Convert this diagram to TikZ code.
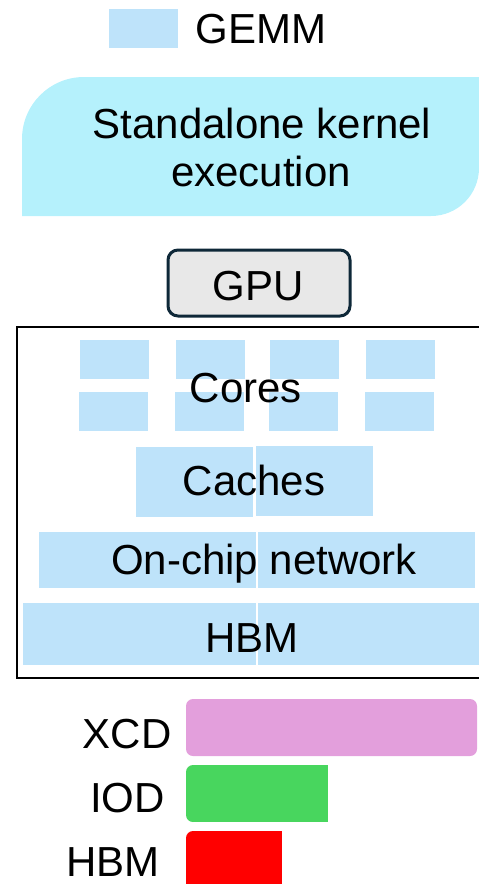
\documentclass[tikz,border=0pt]{standalone}
\usepackage{fontspec}
\setmainfont{Liberation Sans}
\definecolor{gemmblue}{HTML}{BEE3FA}
\definecolor{kernelcyan}{HTML}{B5F1FC}
\definecolor{gpufill}{HTML}{E8E8E8}
\definecolor{gpuline}{HTML}{0E2838}
\definecolor{xcdcol}{HTML}{E39FDC}
\definecolor{iodcol}{HTML}{48D65E}
\definecolor{hbmcol}{HTML}{FF0000}
\begin{document}
\begin{tikzpicture}[x=1pt,y=-1pt,
  txt/.style={inner sep=0pt,anchor=base,font=\fontsize{42}{46}\selectfont},
  blk/.style={fill=gemmblue,draw=none}]
\useasboundingbox (0,0) rectangle (479,884);
\clip (0,0) rectangle (479,884);
% legend
\fill[blk] (109,9) rectangle (178,48);
\node[txt] (gemm) at (261,43) {GEMM};
% standalone kernel execution
\fill[kernelcyan] (22,216) -- (22,139) arc[start angle=180,end angle=270,radius=62]
  -- (479,77) -- (479,168) arc[start angle=0,end angle=90,radius=48] -- cycle;
\node[txt] (sk1) at (262,138) {Standalone kernel};
\node[txt] (sk2) at (261,186) {execution};
% GPU
\node[draw=gpuline,fill=gpufill,line width=3pt,rounded corners=10pt,
  minimum width=182pt,minimum height=66pt,inner sep=0pt] (gpu) at (259,283) {};
\node[txt] (gputxt) at (258,300) {GPU};
% big box
\draw[line width=2pt] (17,327) rectangle (490,678);
% cores
\foreach \x in {80,176,270,366}{
  \fill[blk] (\x,340) rectangle ++(69,39);
  \fill[blk] (\x-1,392) rectangle ++(69,39);
}
\node[txt] (cores) at (246,402) {Cores};
% caches
\fill[blk] (136,447) rectangle (253,517);
\fill[blk] (256,446) rectangle (373,516);
\node[txt] (caches) at (254,495) {Caches};
% on-chip network
\fill[blk] (39,532) rectangle (256,588);
\fill[blk] (258,532) rectangle (475,588);
\node[txt] (noc) at (264,574) {On-chip network};
% HBM
\fill[blk] (23,603) rectangle (256,665);
\fill[blk] (258,603) rectangle (490,665);
\node[txt] (hbm) at (252,652) {HBM};
% bars
\fill[xcdcol,rounded corners=7pt] (186,699) rectangle (477,756);
\fill[iodcol,rounded corners=7pt] (186,765) rectangle (200,822);
\fill[iodcol] (193,765) rectangle (328,822);
\fill[hbmcol,rounded corners=7pt] (186,831) rectangle (200,900);
\fill[hbmcol] (193,831) rectangle (282,900);
\node[txt] (xcd) at (127,748) {XCD};
\node[txt] (iod) at (127.5,812) {IOD};
\node[txt] (hbml) at (113,876) {HBM};
\end{tikzpicture}
\end{document}
